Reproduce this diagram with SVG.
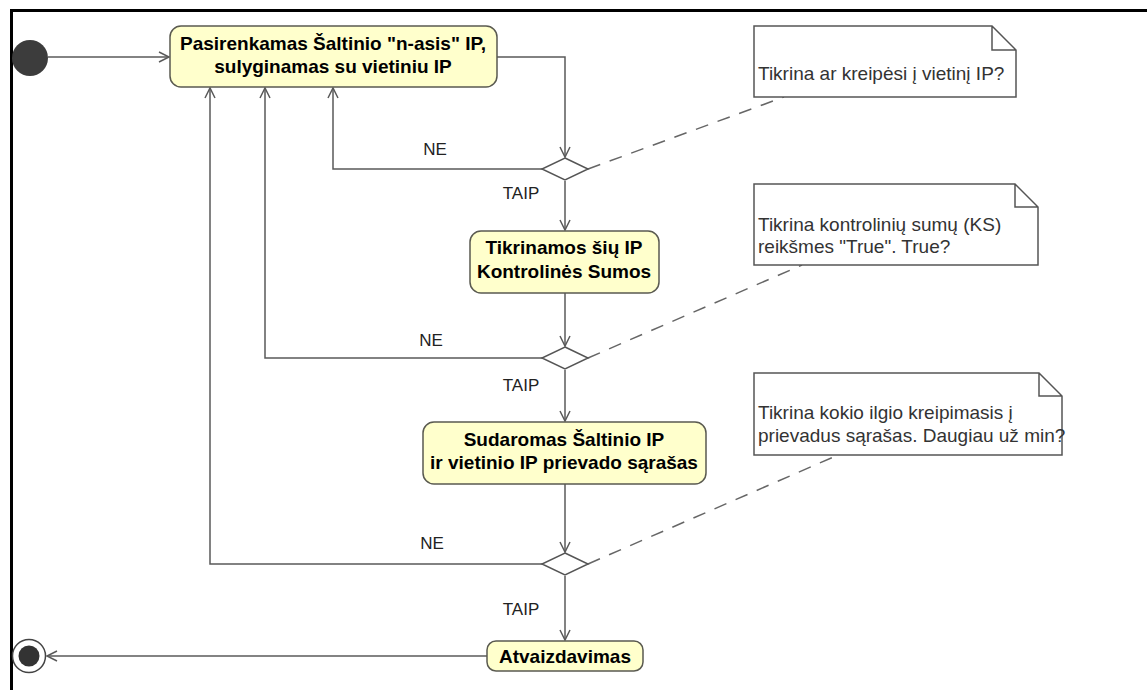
<svg xmlns="http://www.w3.org/2000/svg" width="1147" height="690" viewBox="0 0 1147 690">
  <style>
    .frame { fill: none; stroke: #000; stroke-width: 3; }
    .action { fill: #ffffcc; stroke: #5a5a50; stroke-width: 1.5; }
    .action-text { font-family: "Liberation Sans", Arial, sans-serif; font-size: 19px; font-weight: bold; fill: #000; text-anchor: middle; }
    .decision { fill: #fff; stroke: #555; stroke-width: 1.5; }
    .note { fill: #fff; stroke: #555; stroke-width: 1.5; }
    .note-text { font-family: "Liberation Sans", Arial, sans-serif; font-size: 19px; fill: #333; }
    .flow { fill: none; stroke: #5a5a5a; stroke-width: 1.5; marker-end: url(#open-arrow); }
    .anchor { fill: none; stroke: #666; stroke-width: 1.5; stroke-dasharray: 13 10; }
    .guard { font-family: "Liberation Sans", Arial, sans-serif; font-size: 17px; fill: #222; text-anchor: middle; }
  </style>
  <defs>
    <marker id="open-arrow" markerUnits="userSpaceOnUse" markerWidth="14" markerHeight="14" refX="11" refY="6" orient="auto">
      <path d="M1,1 L11,6 L1,11" fill="none" stroke="#5a5a5a" stroke-width="1.5"/>
    </marker>
  </defs>

  <rect width="1147" height="690" fill="#fff"/>
  <path class="frame" d="M11.5,700 V10.5 H1160"/>

  <!-- control flows, guards and note anchors -->
  <g id="connectors">
    <path class="flow" d="M48,57 H169"/>
    <path class="flow" d="M497,57 H565 V157"/>
    <path class="flow" d="M565,181 V230"/>
    <path class="flow" d="M565,293 V346"/>
    <path class="flow" d="M565,370 V421"/>
    <path class="flow" d="M565,484 V552"/>
    <path class="flow" d="M565,576 V640"/>
    <path class="flow" d="M487,656 H47"/>
    <path class="flow" d="M542,169 H333 V88"/>
    <path class="flow" d="M542,358 H265 V88"/>
    <path class="flow" d="M542,564 H210 V88"/>
    <path class="anchor" d="M588,169 L784,97"/>
    <path class="anchor" d="M588,358 L802,265"/>
    <path class="anchor" d="M588,564 L838,455"/>
    <text class="guard" x="435" y="155">NE</text>
    <text class="guard" x="521" y="199">TAIP</text>
    <text class="guard" x="431" y="346">NE</text>
    <text class="guard" x="521" y="391">TAIP</text>
    <text class="guard" x="432" y="549">NE</text>
    <text class="guard" x="521" y="615">TAIP</text>
  </g>

  <g id="start">
    <circle cx="30" cy="58" r="18" fill="#3c3c3c"/>
  </g>

  <g id="end">
    <circle cx="29" cy="656" r="16.5" fill="#fff" stroke="#444" stroke-width="1.5"/>
    <circle cx="29" cy="656" r="10.5" fill="#333"/>
  </g>

  <g id="select-source-ip">
    <rect class="action" x="170" y="26" width="327" height="61" rx="11"/>
    <text class="action-text" x="333" y="50">Pasirenkamas Šaltinio "n-asis" IP,</text>
    <text class="action-text" x="333" y="73">sulyginamas su vietiniu IP</text>
  </g>

  <g id="decision-local-ip">
    <polygon class="decision" points="565,158 588,169 565,180 542,169"/>
  </g>

  <g id="check-checksums">
    <rect class="action" x="470" y="231" width="189" height="62" rx="11"/>
    <text class="action-text" x="564" y="254">Tikrinamos šių IP</text>
    <text class="action-text" x="564" y="278">Kontrolinės Sumos</text>
  </g>

  <g id="decision-checksums">
    <polygon class="decision" points="565,347 588,358 565,369 542,358"/>
  </g>

  <g id="build-port-list">
    <rect class="action" x="423" y="422" width="283" height="62" rx="11"/>
    <text class="action-text" x="564" y="446">Sudaromas Šaltinio IP</text>
    <text class="action-text" x="564" y="469">ir vietinio IP prievado sąrašas</text>
  </g>

  <g id="decision-port-list">
    <polygon class="decision" points="565,553 588,564 565,575 542,564"/>
  </g>

  <g id="display">
    <rect class="action" x="487" y="641" width="156" height="30" rx="9"/>
    <text class="action-text" x="565" y="663">Atvaizdavimas</text>
  </g>

  <g id="note-local-ip">
    <path class="note" d="M754,26 H992 L1016,50 V97 H754 Z M992,26 V50 H1016"/>
    <text class="note-text" x="758" y="80">Tikrina ar kreipėsi į vietinį IP?</text>
  </g>

  <g id="note-checksums">
    <path class="note" d="M754,184 H1015 L1038,207 V265 H754 Z M1015,184 V207 H1038"/>
    <text class="note-text" x="758" y="231">Tikrina kontrolinių sumų (KS)</text>
    <text class="note-text" x="758" y="253">reikšmes "True". True?</text>
  </g>

  <g id="note-port-list">
    <path class="note" d="M754,373 H1039 L1062,396 V455 H754 Z M1039,373 V396 H1062"/>
    <text class="note-text" x="758" y="419">Tikrina kokio ilgio kreipimasis į</text>
    <text class="note-text" x="758" y="442">prievadus sąrašas. Daugiau už min?</text>
  </g>
</svg>
